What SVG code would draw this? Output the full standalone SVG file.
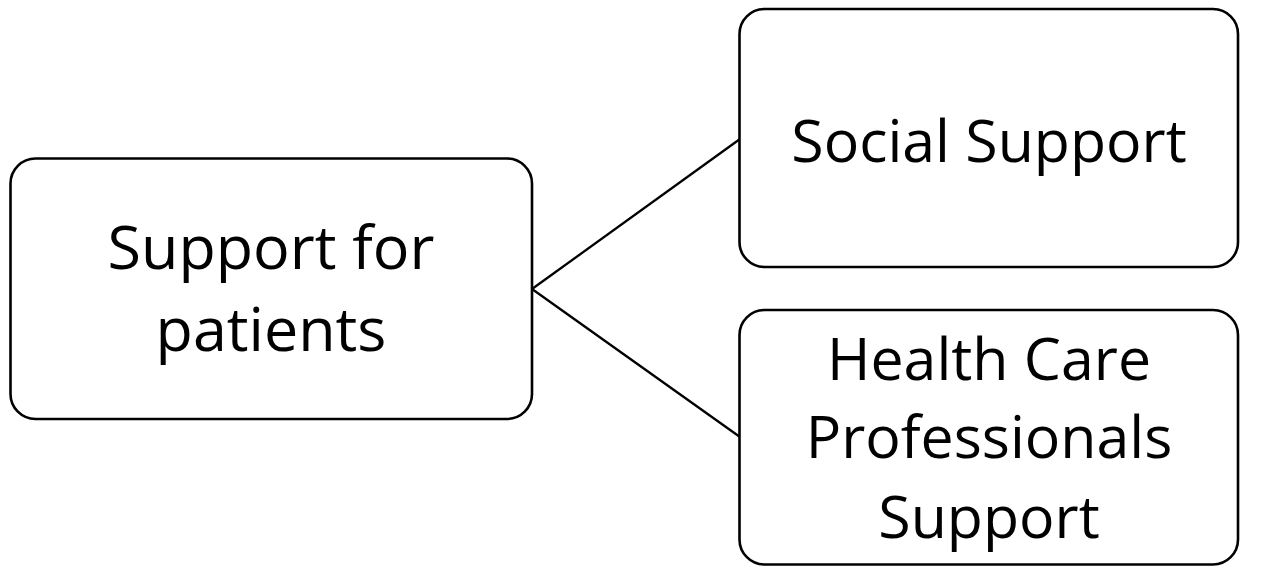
<svg xmlns="http://www.w3.org/2000/svg" width="1266" height="566" viewBox="0 0 1266 566">
  <style>
    .box { fill: #ffffff; stroke: #000000; stroke-width: 2.6; }
    .link { stroke: #000000; stroke-width: 2.3; fill: none; }
    .label { font-family: "Open Sans", "Noto Sans", sans-serif; font-size: 59px; fill: #000000; text-anchor: middle; }
    .root-label { font-size: 61px; }
  </style>
  <rect width="1266" height="566" fill="#ffffff"/>

  <!-- connectors from the root node to its two children -->
  <g id="connectors">
    <line class="link" x1="532" y1="289" x2="740" y2="139"/>
    <line class="link" x1="532" y1="289" x2="740" y2="437"/>
  </g>

  <g id="node-root">
    <rect class="box" x="10.5" y="158.5" width="521.5" height="260.5" rx="25" ry="25"/>
    <text class="label root-label" x="271" y="269">Support for</text>
    <text class="label root-label" x="271" y="351">patients</text>
  </g>

  <g id="node-social">
    <rect class="box" x="739.5" y="9" width="498.5" height="258" rx="25" ry="25"/>
    <text class="label" x="989" y="162">Social Support</text>
  </g>

  <g id="node-professional">
    <rect class="box" x="739.5" y="310" width="498.5" height="254.5" rx="25" ry="25"/>
    <text class="label" x="989" y="380">Health Care</text>
    <text class="label" x="989" y="458">Professionals</text>
    <text class="label" x="989" y="538">Support</text>
  </g>
</svg>
